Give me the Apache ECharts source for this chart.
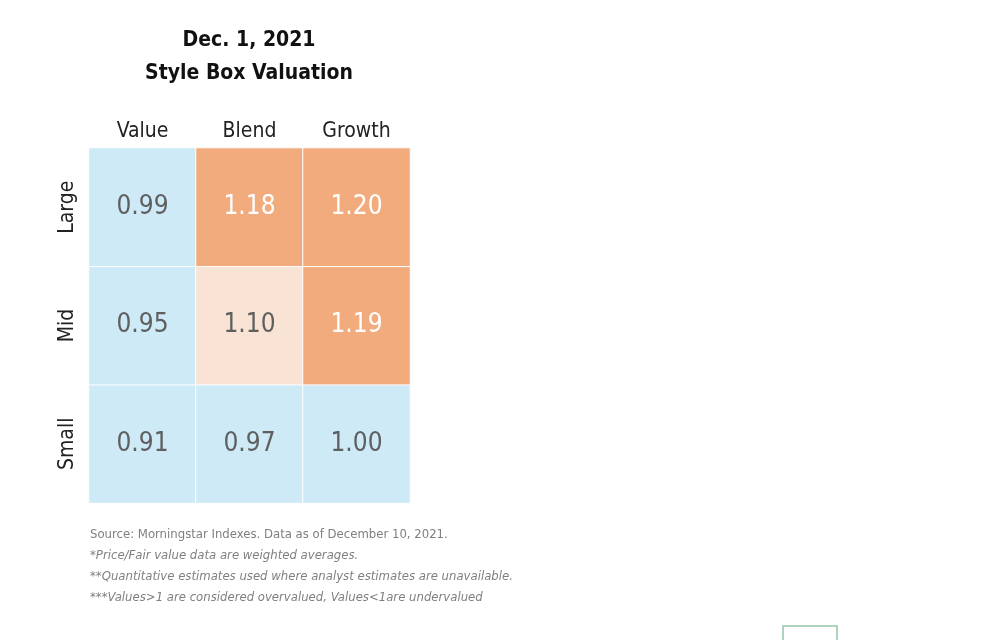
<!DOCTYPE html>
<html><head><meta charset="utf-8">
<script src="https://cdn.jsdelivr.net/npm/echarts@6/dist/echarts.min.js"></script>
<style>html,body{margin:0;padding:0;background:#fff}#c{width:1000px;height:640px}</style>
</head><body><div id="c"></div>
<script>
const styles = ['Value', 'Blend', 'Growth'];
const sizes = ['Small', 'Mid', 'Large'];
const largeVals = [0.99, 1.18, 1.20];
const midVals = [0.95, 1.10, 1.19];
const smallVals = [0.91, 0.97, 1.00];
const titleLines = ['Dec. 1, 2021', 'Style Box Valuation'];
const notes = [
  'Source: Morningstar Indexes. Data as of December 10, 2021.',
  '*Price/Fair value data are weighted averages.',
  '**Quantitative estimates used where analyst estimates are unavailable.',
  '***Values>1 are considered overvalued, Values<1are undervalued'
];

const FONT = '"Liberation Sans Narrow", "DejaVu Sans Condensed", "Roboto", sans-serif';
const rows = [smallVals, midVals, largeVals];
const data = [];
rows.forEach((r, yi) => r.forEach((v, xi) => {
  data.push({ value: [xi, yi, v], label: { color: v >= 1.15 ? '#ffffff' : '#5f5f5f' } });
}));

const chart = echarts.init(document.getElementById('c'));
chart.setOption({
  animation: false,
  grid: { left: 89, top: 148, width: 321, height: 355 },
  xAxis: {
    type: 'category', data: styles, position: 'top',
    axisLine: { show: false }, axisTick: { show: false }, splitLine: { show: false },
    axisLabel: { fontFamily: FONT, fontSize: 21, color: '#222', margin: 6 }
  },
  yAxis: {
    type: 'category', data: sizes,
    axisLine: { show: false }, axisTick: { show: false }, splitLine: { show: false },
    axisLabel: { fontFamily: FONT, fontSize: 21, color: '#222', rotate: 90, margin: 11 }
  },
  visualMap: {
    show: false, type: 'piecewise', dimension: 2,
    pieces: [
      { lt: 1.05, color: '#cdeaf6' },
      { gte: 1.05, lt: 1.15, color: '#f8e3d5' },
      { gte: 1.15, color: '#f2ab7d' }
    ]
  },
  series: [{
    type: 'heatmap', data: data,
    itemStyle: { borderColor: '#ffffff', borderWidth: 1 },
    label: { show: true, fontFamily: FONT, fontSize: 26, formatter: p => p.value[2].toFixed(2) },
    emphasis: { disabled: true }
  }],
  graphic: [
    ...titleLines.map((t, i) => ({
      type: 'text', x: 249, y: 41 + i * 33,
      style: { text: t, fontFamily: FONT, fontWeight: 'bold', fontSize: 21, fill: '#111',
               align: 'center', verticalAlign: 'middle' }
    })),
    ...notes.map((t, i) => ({
      type: 'text', x: 90, y: 535 + i * 21,
      style: { text: t, fontFamily: FONT, fontSize: 13, fill: '#7f7f7f', verticalAlign: 'middle',
               fontStyle: i > 0 ? 'italic' : 'normal' }
    })),
    { type: 'rect', shape: { x: 783, y: 626, width: 54, height: 30 },
      style: { fill: 'none', stroke: '#96c5aa', lineWidth: 1.5 } }
  ]
});
</script></body></html>
